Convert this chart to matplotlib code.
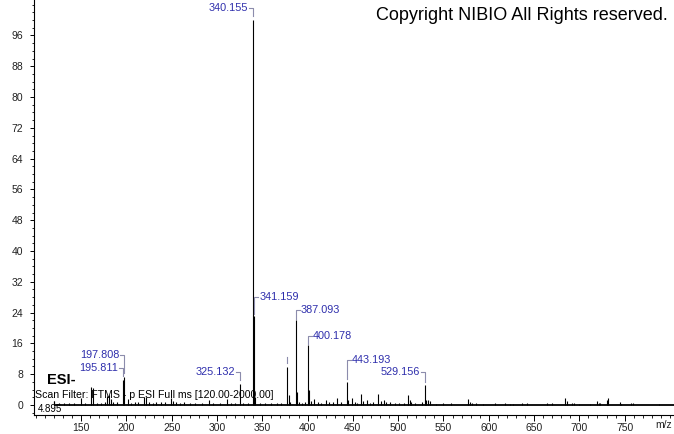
import matplotlib
matplotlib.use('Agg')
import matplotlib.pyplot as plt
from matplotlib.ticker import MultipleLocator, FixedLocator

plt.rcParams['font.family'] = ['Liberation Sans', 'DejaVu Sans']

# Labelled peaks (m/z, relative abundance)
label_mz = [340.155, 341.159, 387.093, 400.178, 443.193, 529.156, 325.132, 197.808, 195.811]
label_int = [100.0, 23.0, 22.0, 15.5, 6.0, 5.2, 5.4, 7.2, 6.6]

# Unlabelled peak with only a marker tick
marked_mz = [376.9]
marked_int = [9.9]

# Small peaks
other_mz = [120.0, 126.0, 131.5, 137.0, 142.0, 149.4, 154.0, 161.0, 163.0, 167.5,
            172.0, 176.0, 178.5, 180.5, 182.5, 185.0, 189.2, 201.6, 205.0, 209.0,
            213.0, 219.3, 221.5, 225.0, 229.0, 233.0, 238.0, 243.0, 248.8, 251.5,
            255.0, 259.0, 264.0, 270.0, 276.0, 283.0, 291.4, 296.0, 303.0, 310.6,
            316.0, 320.0, 329.0, 334.0, 342.2, 347.0, 353.0, 360.0, 366.0, 371.0,
            379.0, 381.0, 388.1, 390.0, 394.0, 397.0, 401.7, 404.0, 407.0, 411.0,
            415.0, 420.0, 424.0, 428.0, 432.6, 437.0, 444.2, 448.5, 452.0, 455.0,
            458.5, 461.0, 465.1, 469.0, 472.0, 477.5, 481.0, 484.2, 487.0, 491.0,
            496.0, 501.0, 506.0, 511.0, 512.9, 514.7, 519.0, 525.8, 530.2, 533.0,
            534.9, 542.0, 549.6, 558.1, 577.2, 579.0, 582.0, 586.0, 594.0, 606.7,
            617.7, 623.3, 626.6, 637.0, 641.7, 663.8, 670.0, 684.7, 686.0, 692.0,
            694.0, 699.4, 711.6, 719.6, 721.5, 723.0, 730.7, 731.8, 745.4, 746.5,
            757.0, 759.0, 788.0]
other_int = [1.0, 0.4, 0.5, 0.4, 0.6, 1.7, 0.5, 4.7, 4.3, 0.6,
             0.5, 0.8, 2.4, 2.6, 1.6, 0.9, 0.8, 1.5, 0.6, 0.7,
             0.9, 2.1, 2.0, 0.8, 0.6, 0.9, 0.7, 0.8, 1.9, 1.0,
             0.7, 0.6, 0.8, 0.5, 0.6, 0.5, 1.2, 0.5, 0.4, 1.5,
             0.6, 0.4, 0.5, 0.6, 2.0, 0.5, 0.4, 0.5, 0.6, 0.5,
             2.5, 0.8, 3.5, 0.8, 0.6, 0.9, 3.9, 1.0, 1.5, 0.7,
             0.6, 1.2, 0.7, 0.9, 1.8, 0.8, 1.2, 1.8, 0.8, 0.6,
             2.8, 1.0, 1.3, 0.6, 0.7, 2.8, 1.0, 1.4, 0.9, 0.7,
             0.5, 0.5, 0.4, 2.7, 1.3, 0.8, 0.5, 0.8, 1.2, 1.3,
             1.0, 0.3, 0.4, 0.5, 1.5, 0.7, 0.5, 0.4, 0.3, 0.4,
             0.6, 0.3, 0.3, 0.5, 0.5, 0.5, 0.5, 1.9, 1.0, 0.5,
             0.4, 0.3, 0.3, 1.1, 0.5, 0.4, 1.3, 1.7, 0.8, 0.3,
             0.4, 0.4, 0.3]

scan_start = 120.0
x_ticks = [150, 200, 250, 300, 350, 400, 450, 500, 550, 600, 650, 700, 750]
y_ticks = [0, 8, 16, 24, 32, 40, 48, 56, 64, 72, 80, 88, 96]

# label layout: side, rise above peak top (px), gap below bracket (px)
label_layout = [('L', 12, 4), ('R', 19, 2), ('R', 10, 1), ('R', 9, 1), ('R', 22, 3),
                ('L', 13, 3), ('L', 12, 4), ('L', 22, 4), ('L', 12, 4)]

BLUE = '#2e2eac'
GREY = '#8c8cac'

fig = plt.figure(figsize=(6.74, 4.34), dpi=100)
ax = fig.add_axes([34 / 674, 19 / 434, 640 / 674, 415 / 434])
ax.set_xlim(98, 804.5)
ax.set_ylim(-2.6, 105.2)

all_mz = other_mz + marked_mz + label_mz
all_int = other_int + marked_int + label_int
ax.vlines(all_mz, 0, all_int, color='black', lw=0.8)
ax.hlines(0, scan_start, 804.5, color='black', lw=1.3)
ax.vlines([scan_start], 0, [1.0], color='black', lw=0.8)

for sp in ['top', 'right']:
    ax.spines[sp].set_visible(False)
for sp in ['left', 'bottom']:
    ax.spines[sp].set_linewidth(0.8)

ax.xaxis.set_major_locator(FixedLocator(x_ticks))
ax.xaxis.set_minor_locator(MultipleLocator(10))
ax.yaxis.set_major_locator(FixedLocator(y_ticks))
ax.yaxis.set_minor_locator(MultipleLocator(2))
ax.tick_params(axis='x', which='major', length=4, width=0.7, pad=1.5, labelsize=7.5, labelcolor='#222222')
ax.tick_params(axis='x', which='minor', length=2.5, width=0.6)
ax.tick_params(axis='y', which='major', length=3, width=0.7, pad=5, labelsize=7.5, labelcolor='#222222')
ax.tick_params(axis='y', which='minor', length=1.5, width=0.6)

inv = ax.transData.inverted()


def to_data(px, py):
    return inv.transform((px, py))


for mz, h, (side, rise, gap) in zip(label_mz, label_int, label_layout):
    px, py = ax.transData.transform((mz, h))
    s = -1 if side == 'L' else 1
    pts = [to_data(px, py + gap), to_data(px, py + rise), to_data(px + s * 4, py + rise)]
    ax.plot([p[0] for p in pts], [p[1] for p in pts], color=GREY, lw=0.8, clip_on=False)
    tx, ty = to_data(px + s * 5, py + rise)
    ax.text(tx, ty, '%.3f' % mz, color=BLUE, fontsize=7.8,
            ha='right' if side == 'L' else 'left', va='center', clip_on=False)

for mz, h in zip(marked_mz, marked_int):
    px, py = ax.transData.transform((mz, h))
    p0 = to_data(px, py + 3.5)
    p1 = to_data(px, py + 10)
    ax.plot([p0[0], p1[0]], [p0[1], p1[1]], color=GREY, lw=0.8)

fig.text(668 / 674, 1 - 15 / 434, 'Copyright NIBIO All Rights reserved.', fontsize=13,
         ha='right', va='center', color='black')
fig.text(47 / 674, 1 - 380 / 434, 'ESI-', fontsize=10.5, fontweight='bold', ha='left', va='center')
fig.text(35 / 674, 1 - 395.5 / 434, 'Scan Filter: FTMS - p ESI Full ms [120.00-2000.00]',
         fontsize=7.6, ha='left', va='center')
fig.text(38 / 674, 1 - 409 / 434, '4.895', fontsize=7, ha='left', va='center')
fig.text(664 / 674, 1 - 425 / 434, 'm/z', fontsize=7.5, ha='center', va='center', color='#222222')

fig.savefig('out.png', dpi=100)
